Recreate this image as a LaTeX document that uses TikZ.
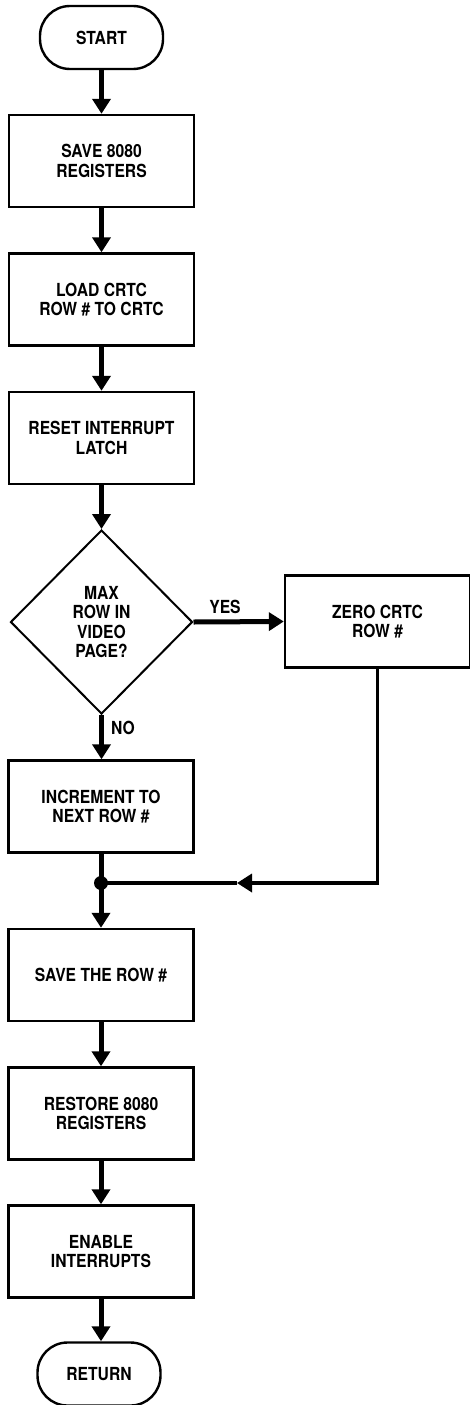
\documentclass[tikz,border=0pt]{standalone}
\usepackage{fontspec}
\newfontfamily\flowfont{TeX Gyre Heros}[FakeStretch=0.87]
\usetikzlibrary{arrows.meta,shapes.geometric}
\begin{document}
\begin{tikzpicture}[x=1pt,y=-1pt,
  every node/.style={font=\flowfont\bfseries\fontsize{18}{19.5}\selectfont, align=center},
  procbox/.style={draw, line width=2.4pt, minimum width=185pt, minimum height=92pt, inner sep=0pt},
  termbox/.style={draw, line width=2.4pt, rounded corners=30pt, minimum width=123pt, minimum height=63pt, inner sep=0pt},
  decision/.style={draw, diamond, line width=2pt, minimum width=182pt, minimum height=184pt, inner sep=0pt},
  joint/.style={circle, fill, minimum size=14pt, inner sep=0pt},
  flow/.style={line width=5pt, -{Triangle[width=18pt,length=15pt]}},
  thinflow/.style={line width=3.5pt, -{Triangle[width=18pt,length=15pt]}},
  plain/.style={line width=5pt},
  thinline/.style={line width=3.5pt},
  tag/.style={inner sep=0pt}]

\useasboundingbox (0,0) rectangle (469,1405);

% main column
\node[termbox] (start) at (101.5,37.5) {START};
\node[procbox] (save) at (101.5,161) {SAVE 8080\\REGISTERS};
\node[procbox] (load) at (101.5,299.5) {LOAD CRTC\\ROW \# TO CRTC};
\node[procbox] (reset) at (101.5,438) {RESET INTERRUPT\\LATCH};
\node[decision] (max) at (101.5,622) {MAX\\ROW IN\\VIDEO\\PAGE?};
\node[procbox] (zero) at (377.5,621.5) {ZERO CRTC\\ROW \#};
\node[procbox] (inc) at (101,806.5) {INCREMENT TO\\NEXT ROW \#};
\node[joint] (jn) at (101,883) {};
\node[procbox] (saverow) at (101,975) {SAVE THE ROW \#};
\node[procbox] (restore) at (101,1113.5) {RESTORE 8080\\REGISTERS};
\node[procbox] (enable) at (101,1251.5) {ENABLE\\INTERRUPTS};
\node[termbox] (ret) at (99,1374) {RETURN};

% branch labels
\node[tag] (yes) at (225,607) {YES};
\node[tag] (no) at (123,728) {NO};

% connectors
\draw[flow] (start.south) -- (start.south |- save.north);
\draw[flow] (save.south) -- (save.south |- load.north);
\draw[flow] (load.south) -- (load.south |- reset.north);
\draw[flow] (reset.south) -- (reset.south |- max.north);
\draw[flow] (max.east) -- (zero.west);
\draw[flow] (max.south) -- (max.south |- inc.north);
\draw[plain] (inc.south) -- (jn.center);
\coordinate (back) at (237,883);
\draw[thinflow] (zero.south) |- (back);
\draw[thinline] (back) -- (jn.center);
\draw[flow] (jn.center) -- (jn.center |- saverow.north);
\draw[flow] (saverow.south) -- (saverow.south |- restore.north);
\draw[flow] (restore.south) -- (restore.south |- enable.north);
\draw[flow] (enable.south) -- (enable.south |- ret.north);
\end{tikzpicture}
\end{document}
